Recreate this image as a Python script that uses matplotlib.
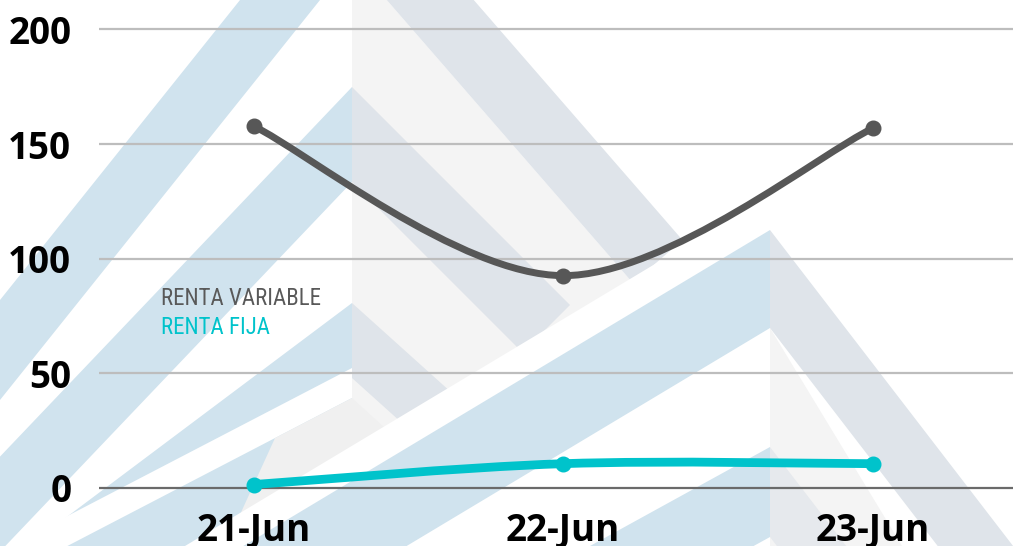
import matplotlib.pyplot as plt
import numpy as np
from matplotlib.path import Path
from matplotlib.patches import PathPatch, Polygon

# data
fechas = ["21-Jun", "22-Jun", "23-Jun"]
renta_variable = [157.8, 92.6, 156.8]
renta_fija = [1.5, 10.6, 10.6]
yticks = [0, 50, 100, 150, 200]

GRIS = "#575757"
TURQ = "#00c3cb"
AZUL_WM = "#d0e3ee"
GRIS_WM = "#dfe4ea"
CLARO_WM = "#f4f4f4"

W, H = 1013, 546


def chevron(ax, cx, cy, t, sl, sr, end_y, c_left, c_right):
    # left arm, runs off the left edge
    x0 = -60
    ax.add_patch(Polygon([(cx, cy), (x0, cy + (cx - x0) * sl),
                          (x0, cy + t + (cx - x0) * sl), (cx, cy + t)],
                         closed=True, fc=c_left, ec="none"))
    if c_right is None:
        return
    # right arm, cut square at the end
    xo = cx + (end_y - cy) / sr
    v = t / (1 + sr ** 2)
    xi, yi = xo - v * sr, end_y + v
    ax.add_patch(Polygon([(cx, cy), (xo, end_y), (xi, yi), (cx, cy + t)],
                         closed=True, fc=c_right, ec="none"))


def watermark(fig):
    bg = fig.add_axes([0, 0, 1, 1], zorder=0)
    bg.set_xlim(0, W)
    bg.set_ylim(H, 0)
    bg.axis("off")

    # upper-left logo, light fill on its right half
    sr0 = 1.15
    bg.add_patch(Polygon([(352, -10), (352 + (-10 + 40) / sr0, -10),
                          (352 + (700 + 40) / sr0, 700), (352, 700)],
                         closed=True, fc=CLARO_WM, ec="none"))
    chevron(bg, 352, -140, 100, 1.25, sr0, 240, AZUL_WM, GRIS_WM)
    chevron(bg, 352, 87, 95, 1.05, 1.0, 305, AZUL_WM, GRIS_WM)
    chevron(bg, 352, 303, 75, 0.75, 0.9, 398, AZUL_WM, GRIS_WM)

    # lower-left logo, white gap above it
    cx, cy, sl = 352, 398, 0.52
    bg.add_patch(Polygon([(cx, cy - 30), (-60, cy - 30 + (cx + 60) * sl),
                          (-60, 700), (cx, 700)],
                         closed=True, fc="white", ec="none"))
    chevron(bg, cx, cy, 100, sl, None, 0, AZUL_WM, None)
    bg.add_patch(Polygon([(cx, cy), (275, cy + 77 * sl), (215, cy + 100 + 137 * sl),
                          (cx, cy + 100)], closed=True, fc="#f0f0f0", ec="none"))
    bg.add_patch(Polygon([(cx, cy), (cx + 110, cy + 100), (cx + 60, cy + 150), (cx, cy + 100)],
                         closed=True, fc="#f0f0f0", ec="none"))

    # right logo, white gap round it
    cx, cy = 770, 230
    sl, sr = 0.6, 1.3
    g = 35
    bg.add_patch(Polygon([(-60, cy - g + (cx + 60) * sl), (cx, cy - g),
                          (1100, cy - g + (1100 - cx) * sr), (1100, 700), (-60, 700)],
                         closed=True, fc="white", ec="none"))
    bg.add_patch(Polygon([(cx, cy + 98), (cx + (700 - cy - 98) / 1.65, 700), (cx, 700)],
                         closed=True, fc=CLARO_WM, ec="none"))
    chevron(bg, cx, cy, 98, sl, sr, 700, AZUL_WM, GRIS_WM)
    chevron(bg, cx, 447, 90, 0.55, 1.3, 700, AZUL_WM, "#e6e9ed")


def smooth(xs, ys):
    # Excel-like smoothed line as cubic Bezier segments
    pts = np.column_stack([xs, ys]).astype(float)
    n = len(pts)
    verts = [pts[0]]
    codes = [Path.MOVETO]
    for i in range(n - 1):
        p0 = pts[max(i - 1, 0)]
        p1, p2 = pts[i], pts[i + 1]
        p3 = pts[min(i + 2, n - 1)]
        verts += [p1 + (p2 - p0) / 6, p2 - (p3 - p1) / 6, p2]
        codes += [Path.CURVE4] * 3
    return Path(verts, codes)


fig = plt.figure(figsize=(W / 100, H / 100), dpi=100)
watermark(fig)

ax = fig.add_axes([99 / W, 0, 1 - 99 / W, 1], zorder=1)
ax.patch.set_alpha(0)
x = np.arange(len(fechas))
ax.set_xlim(-0.5, 2.454)
ax.set_ylim(-25.3, 212.8)

for v in yticks:
    ax.axhline(v, color="#6a6a6a" if v == 0 else "#bdbdbd", lw=1.6, zorder=1)

for serie, color, lw in [(renta_variable, GRIS, 5), (renta_fija, TURQ, 6.3)]:
    ax.add_patch(PathPatch(smooth(x, serie), fill=False, ec=color, lw=lw,
                           capstyle="round", joinstyle="round", zorder=3))
    ax.plot(x, serie, "o", color=color, ms=10.5, zorder=4)

for s in ax.spines.values():
    s.set_visible(False)
ax.set_yticks(yticks)
ax.set_xticks(x, fechas)
ax.tick_params(length=0)
ax.tick_params(axis="y", pad=20)
ax.tick_params(axis="x", pad=-25)
for lab in ax.get_xticklabels() + ax.get_yticklabels():
    lab.set_fontfamily(["Open Sans", "DejaVu Sans"])
    lab.set_fontweight("bold")
    lab.set_fontsize(26.5)
    lab.set_color("black")

leyenda = ["Roboto Condensed", "Liberation Sans Narrow", "DejaVu Sans Condensed", "Roboto"]
fig.text(161 / W, 1 - 305 / H, "RENTA VARIABLE", color="#595959", fontsize=16.5,
         family=leyenda, va="baseline", zorder=5)
fig.text(161 / W, 1 - 334 / H, "RENTA FIJA", color=TURQ, fontsize=16.5,
         family=leyenda, va="baseline", zorder=5)

fig.savefig("out.png", dpi=100)
